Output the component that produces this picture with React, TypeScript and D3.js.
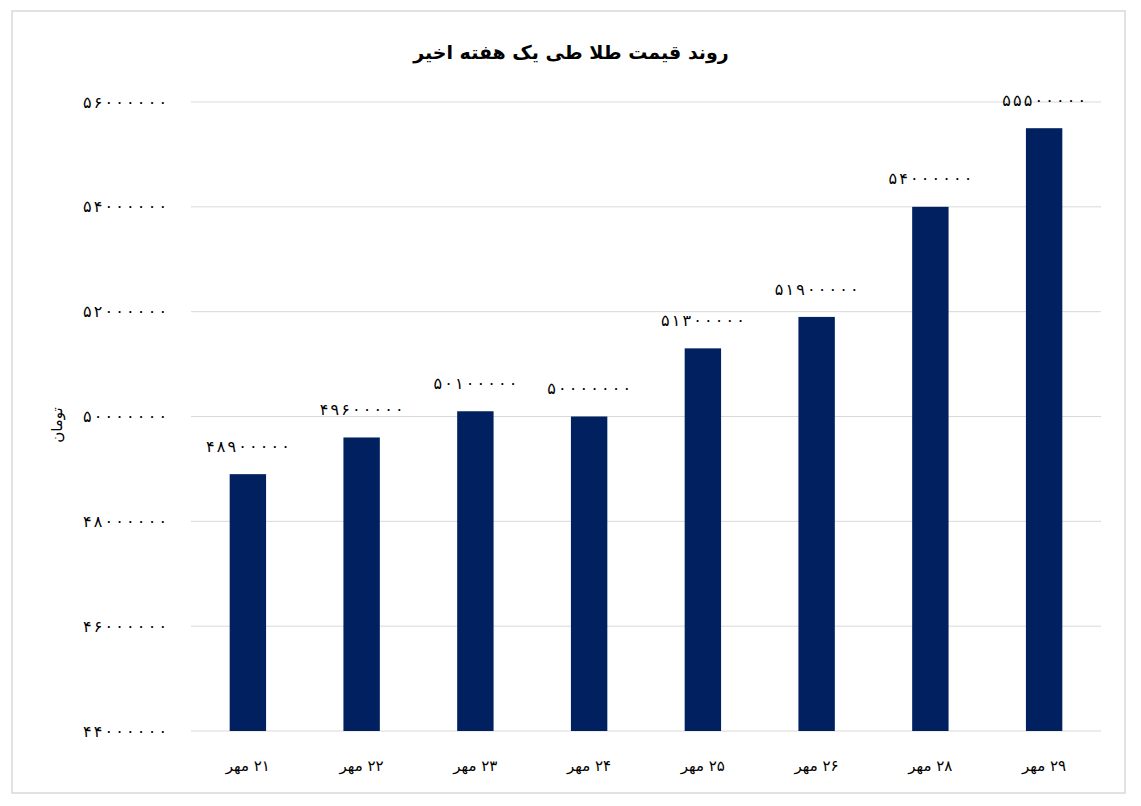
import React from "react";
import * as d3 from "d3";

const categories = ["۲۱ مهر", "۲۲ مهر", "۲۳ مهر", "۲۴ مهر", "۲۵ مهر", "۲۶ مهر", "۲۸ مهر", "۲۹ مهر"];
const prices = [48900000, 49600000, 50100000, 50000000, 51300000, 51900000, 54000000, 55500000];
const yTicks = [44000000, 46000000, 48000000, 50000000, 52000000, 54000000, 56000000];
const title = "روند قیمت طلا طی یک هفته اخیر";
const yTitle = "تومان";

const W = 1141;
const H = 806;
const FONT = "'DejaVu Sans', sans-serif";

const toFa = (n: number) =>
  String(n).replace(/[0-9]/g, (d) => "۰۱۲۳۴۵۶۷۸۹"[+d]);

export default function App() {
  const x = d3
    .scaleBand<string>()
    .domain(categories)
    .range([191, 1101])
    .paddingInner(0.68)
    .paddingOuter(0.34);
  const y = d3.scaleLinear().domain([44000000, 56000000]).range([731, 102]);

  return (
    <svg
      width={W}
      height={H}
      style={{ position: "absolute", left: 0, top: 0, background: "#fff" }}
      fontFamily={FONT}
    >
      <rect x={12} y={11} width={1113} height={782} fill="#fff" stroke="#d9d9d9" strokeWidth={1.5} />
      <text x={571} y={59} textAnchor="middle" fontSize={19} fontWeight="bold" fill="#000">
        {title}
      </text>
      {yTicks.map((t) => (
        <g key={t}>
          <line x1={191} x2={1101} y1={y(t)} y2={y(t)} stroke="#d9d9d9" strokeWidth={1} />
          <text
            x={167}
            y={y(t)}
            dy="0.35em"
            textAnchor="end"
            fontSize={16}
            textLength={84}
            lengthAdjust="spacing"
            fill="#000"
          >
            {toFa(t)}
          </text>
        </g>
      ))}
      <text
        transform={`translate(57,425) rotate(-90)`}
        textAnchor="middle"
        dy="0.35em"
        fontSize={15}
        fill="#000"
        direction="rtl"
      >
        {yTitle}
      </text>
      {categories.map((c, i) => {
        const bx = x(c) as number;
        const v = prices[i];
        return (
          <g key={c}>
            <rect x={bx} y={y(v)} width={x.bandwidth()} height={y(44000000) - y(v)} fill="#002060" />
            <text
              x={bx + x.bandwidth() / 2}
              y={y(v) - 28}
              dy="0.35em"
              textAnchor="middle"
              fontSize={16}
              textLength={84}
              lengthAdjust="spacing"
              fill="#000"
            >
              {toFa(v)}
            </text>
            <text
              x={bx + x.bandwidth() / 2}
              y={766}
              dy="0.35em"
              textAnchor="middle"
              fontSize={15}
              fill="#000"
              direction="rtl"
            >
              {c}
            </text>
          </g>
        );
      })}
    </svg>
  );
}
